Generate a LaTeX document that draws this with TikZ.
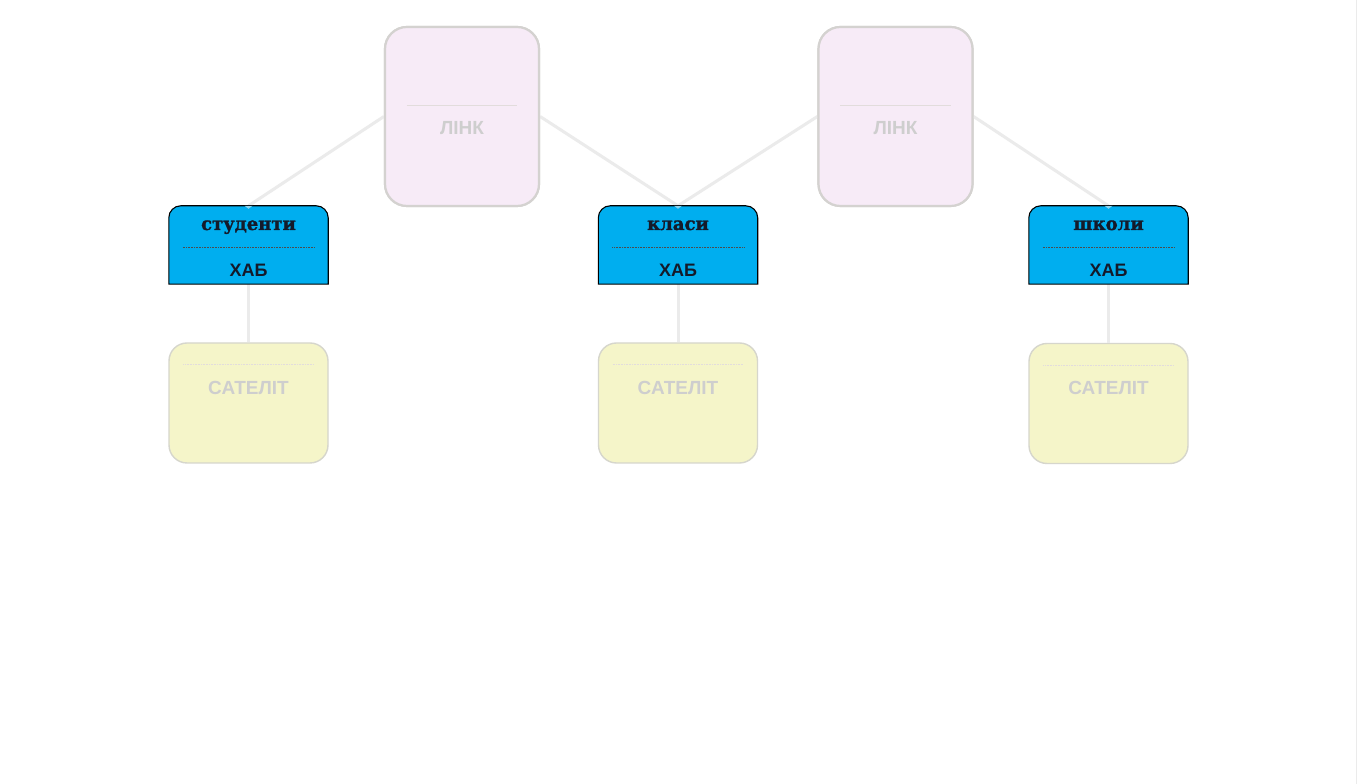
\documentclass[tikz,border=0pt]{standalone}
\usepackage{fontspec}
\setmainfont{Liberation Sans}
\newfontfamily\hubfont[BoldFeatures={FakeBold=1.6}]{DejaVu Serif}
\begin{document}
\begin{tikzpicture}[x=1pt,y=1pt,
  linkbox/.style={draw=linkline,line width=2.2pt,fill=linkfill,rounded corners=22pt,minimum width=154pt,minimum height=179pt,inner sep=0pt},
  satbox/.style={draw=satline,line width=1.4pt,fill=satfill,rounded corners=18pt,minimum width=159pt,minimum height=120pt,inner sep=0pt},
  hubbox/.style={minimum width=159pt,minimum height=78pt,inner sep=0pt},
  hubshape/.style={draw=black,line width=1.1pt,fill=hubfill},
  palelabel/.style={text=paletext,font=\bfseries\fontsize{19}{22}\selectfont,inner sep=0pt,anchor=base},
  hubname/.style={text=hubtext,font=\hubfont\bfseries\fontsize{18}{21}\selectfont,inner sep=0pt,anchor=base},
  hublabel/.style={text=hubtext,font=\bfseries\fontsize{18}{21}\selectfont,inner sep=0pt,anchor=base},
  conn/.style={draw=connline,line width=3pt},
  sepline/.style={draw=sepgray,line width=0.6pt},
  hubsep/.style={draw=black!70,line width=0.4pt,dash pattern=on 1pt off 0.6pt},
]
\definecolor{linkfill}{HTML}{F7EBF7}
\definecolor{linkline}{HTML}{D4D2D0}
\definecolor{satfill}{HTML}{F5F5C9}
\definecolor{satline}{HTML}{D6D6CC}
\definecolor{hubfill}{HTML}{00AEEF}
\definecolor{hubtext}{HTML}{141A2A}
\definecolor{paletext}{HTML}{CECECE}
\definecolor{connline}{HTML}{EBEBEB}
\definecolor{sepgray}{HTML}{E2DCDC}
\useasboundingbox[fill=white] (0,0) rectangle (1358,784);
\draw[draw=black!8,line width=1pt] (1356.5,0) -- (1356.5,784);

% boxes (positions)
\node[hubbox] (h1) at (248.5,539) {};
\node[hubbox] (h2) at (678,539) {};
\node[hubbox] (h3) at (1108.5,539) {};
\node[linkbox] (l1) at (462,667.5) {};
\node[linkbox] (l2) at (895.5,667.5) {};

% connectors
\draw[conn] (l1.west) -- (h1.north);
\draw[conn] (l1.east) -- (h2.north);
\draw[conn] (l2.west) -- (h2.north);
\draw[conn] (l2.east) -- (h3.north);

\node[satbox] (s1) at (248.5,381) {};
\node[satbox] (s2) at (678,381) {};
\node[satbox] (s3) at (1108.5,380.5) {};
\draw[conn] (h1.south) -- (s1.north);
\draw[conn] (h2.south) -- (s2.north);
\draw[conn] (h3.south) -- (s3.north);

% redraw link boxes on top of connectors
\node[linkbox] at (l1.center) {};
\node[linkbox] at (l2.center) {};

% hub shapes
\foreach \h in {h1,h2,h3}{
  \draw[hubshape] (\h.south west) -- ([yshift=-12pt]\h.north west)
    arc[start angle=180,end angle=90,radius=12pt]
    -- ([xshift=-12pt]\h.north east)
    arc[start angle=90,end angle=0,radius=12pt]
    -- (\h.south east) -- cycle;
  \draw[hubsep] ([xshift=14pt,yshift=-2pt]\h.west) -- ([xshift=-14pt,yshift=-2pt]\h.east);
}
\fill[connline!60!hubfill] ([xshift=-4pt]h1.north) -- ([xshift=4pt]h1.north) -- ([yshift=-3pt]h1.north) -- cycle;
\fill[connline!60!hubfill] ([xshift=-4pt]h2.north) -- ([xshift=4pt]h2.north) -- ([yshift=-3pt]h2.north) -- cycle;
\fill[connline!60!hubfill] ([xshift=-4pt]h3.north) -- ([xshift=4pt]h3.north) -- ([yshift=-3pt]h3.north) -- cycle;

% hub labels
\node[hubname] (h1n) at ([yshift=15pt]h1.center) {студенти};
\node[hublabel] (h1l) at ([yshift=-32pt]h1.center) {ХАБ};
\node[hubname] (h2n) at ([yshift=15pt]h2.center) {класи};
\node[hublabel] (h2l) at ([yshift=-32pt]h2.center) {ХАБ};
\node[hubname] (h3n) at ([yshift=15pt]h3.center) {школи};
\node[hublabel] (h3l) at ([yshift=-32pt]h3.center) {ХАБ};

% link labels
\foreach \l in {l1,l2}{
  \draw[sepline] ([xshift=23pt,yshift=11.5pt]\l.west) -- ([xshift=-23pt,yshift=11.5pt]\l.east);
}
\node[palelabel] (l1t) at ([yshift=-18.5pt]l1.center) {ЛІНК};
\node[palelabel] (l2t) at ([yshift=-18.5pt]l2.center) {ЛІНК};

% satellite labels
\foreach \s in {s1,s2,s3}{
  \draw[sepline,dash pattern=on 1pt off 0.6pt] ([xshift=15pt,yshift=38.5pt]\s.west) -- ([xshift=-15pt,yshift=38.5pt]\s.east);
}
\node[palelabel] (s1t) at ([yshift=8.5pt]s1.center) {САТЕЛІТ};
\node[palelabel] (s2t) at ([yshift=8.5pt]s2.center) {САТЕЛІТ};
\node[palelabel] (s3t) at ([yshift=8.5pt]s3.center) {САТЕЛІТ};
\end{tikzpicture}
\end{document}
